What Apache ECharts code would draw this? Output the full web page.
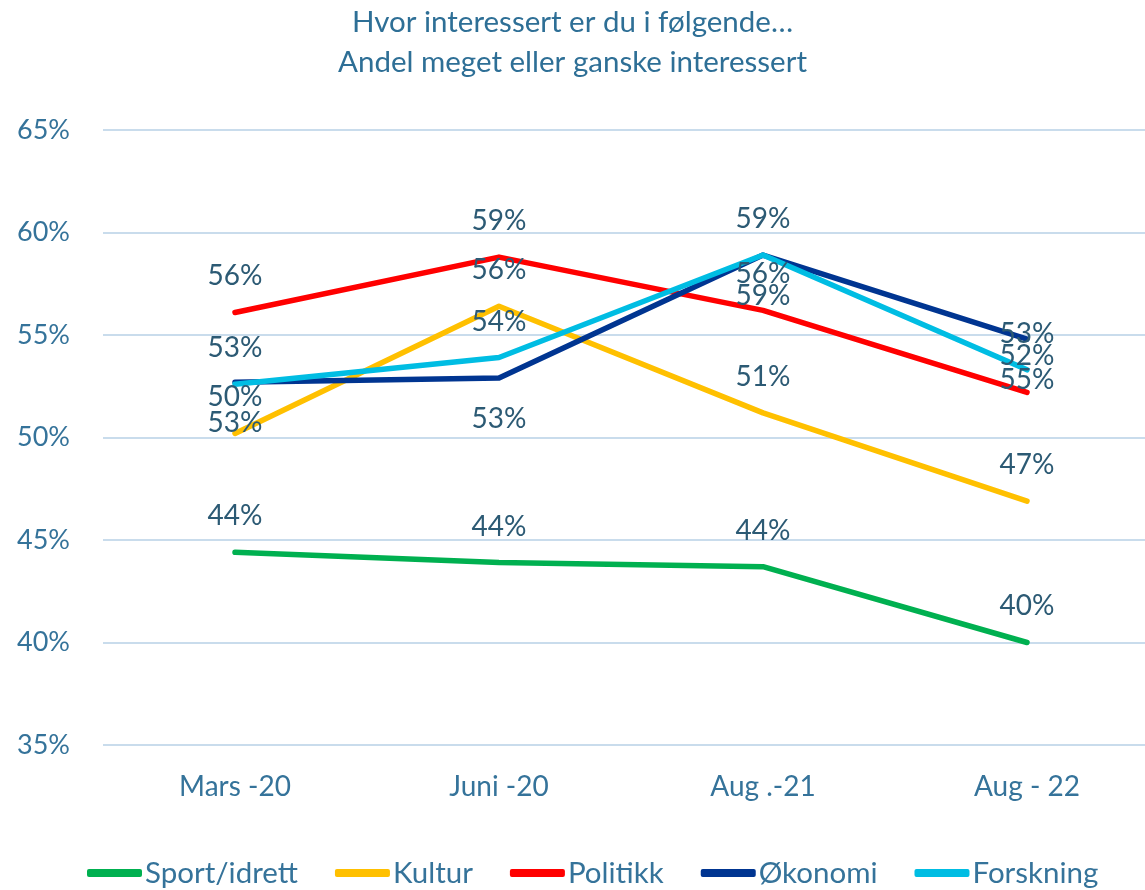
<!DOCTYPE html>
<html>
<head>
<meta charset="utf-8">
<script src="https://cdn.jsdelivr.net/npm/echarts@6/dist/echarts.min.js"></script>
<style>
  html, body { margin: 0; padding: 0; background: #fff; }
  #chart { width: 1145px; height: 890px; }
</style>
</head>
<body>
<div id="chart"></div>
<script>
// kategorier og verdier lest av figuren (prosent)
var categories = ['Mars -20', 'Juni -20', 'Aug .-21', 'Aug - 22'];
var sport = [44.4, 43.9, 43.7, 40.0];
var kultur = [50.2, 56.4, 51.2, 46.9];
var politikk = [56.1, 58.8, 56.2, 52.2];
var okonomi = [52.7, 52.9, 58.9, 54.8];
var forskning = [52.6, 53.9, 58.9, 53.3];
var yTicks = [35, 40, 45, 50, 55, 60, 65];

var font = 'Lato, "Open Sans", sans-serif';
var labelColor = '#2c5a74';
var axisColor = '#35739a';

function lag(name, data, color, pos) {
    return {
        name: name,
        type: 'line',
        data: data,
        symbol: 'circle',
        symbolSize: 0.1,
        itemStyle: { color: color },
        lineStyle: { width: 5.5, color: color, cap: 'round', join: 'round' },
        label: {
            show: true,
            position: pos,
            distance: pos === 'top' ? 22 : 27,
            fontFamily: font,
            fontSize: 28,
            color: labelColor,
            formatter: function (p) { return Math.round(p.value) + '%'; }
        },
        emphasis: { disabled: true },
        animation: false
    };
}

var myChart = echarts.init(document.getElementById('chart'));
myChart.setOption({
    backgroundColor: '#fff',
    title: {
        text: 'Hvor interessert er du i følgende…\nAndel meget eller ganske interessert',
        left: 'center',
        top: -3,
        textStyle: {
            fontFamily: font,
            fontSize: 29.5,
            fontWeight: 'normal',
            color: '#2e6f96',
            lineHeight: 40
        }
    },
    legend: {
        bottom: -3,
        left: 82,
        itemWidth: 55,
        itemHeight: 8,
        itemGap: 37,
        icon: 'roundRect',
        textStyle: { fontFamily: font, fontSize: 29.5, color: axisColor, padding: [0, 0, 0, -2] },
        data: ['Sport/idrett', 'Kultur', 'Politikk', 'Økonomi', 'Forskning']
    },
    grid: { left: 103, width: 1056, top: 130, height: 615, outerBoundsMode: 'none' },
    xAxis: {
        type: 'category',
        data: categories,
        boundaryGap: true,
        axisLine: { show: false },
        axisTick: { show: false },
        axisLabel: { fontFamily: font, fontSize: 28, color: axisColor, margin: 28 }
    },
    yAxis: {
        type: 'value',
        min: yTicks[0],
        max: yTicks[yTicks.length - 1],
        interval: 5,
        axisLine: { show: false },
        axisTick: { show: false },
        splitLine: { lineStyle: { color: '#c9dcec', width: 2 } },
        axisLabel: {
            fontFamily: font, fontSize: 27, color: axisColor, margin: 33,
            formatter: function (v) { return v + '%'; }
        }
    },
    series: [
        lag('Sport/idrett', sport, '#00b050', 'top'),
        lag('Kultur', kultur, '#ffc000', 'top'),
        lag('Politikk', politikk, '#ff0000', 'top'),
        lag('Økonomi', okonomi, '#003591', 'bottom'),
        lag('Forskning', forskning, '#00bde3', 'top')
    ]
});
</script>
</body>
</html>
